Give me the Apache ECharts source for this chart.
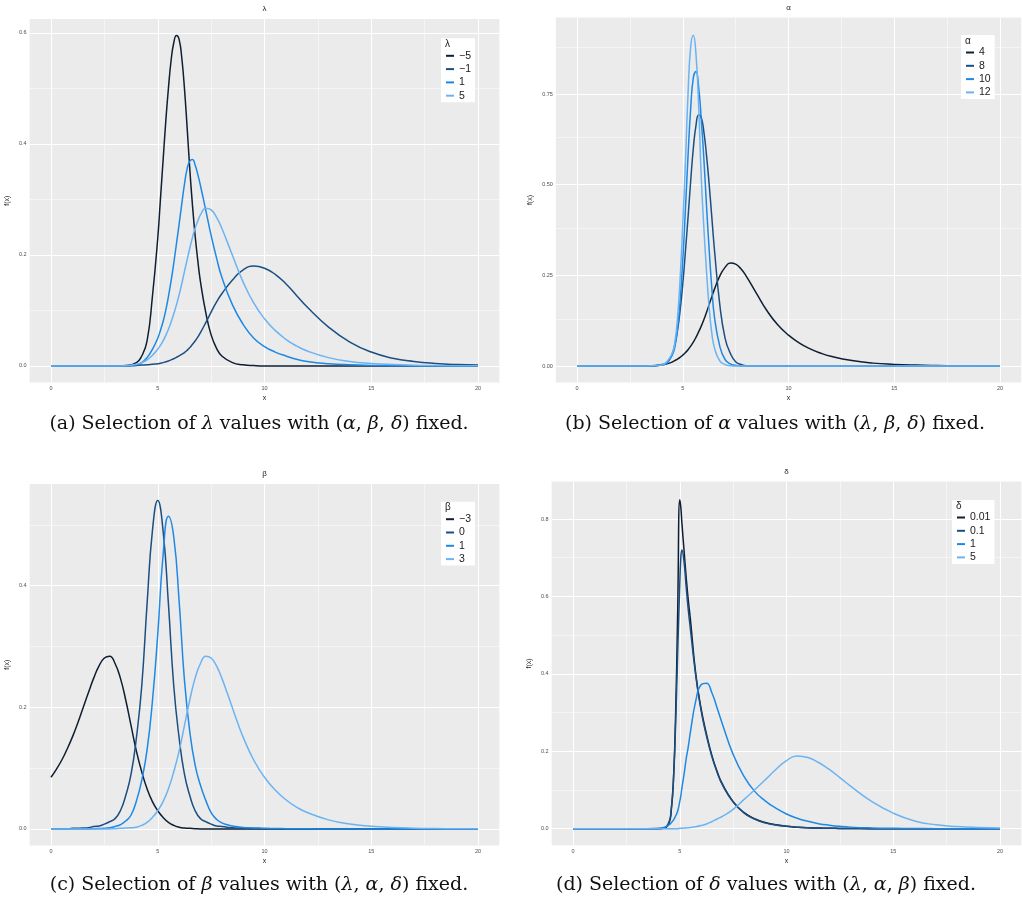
<!DOCTYPE html>
<html><head><meta charset="utf-8">
<script src="https://cdn.jsdelivr.net/npm/echarts@6/dist/echarts.min.js"></script>
<style>html,body{margin:0;padding:0;background:#fff}#c{width:1022px;height:903px}</style>
</head><body><div id="c"></div>
<script>
// ---------- data ----------
const xTicks = [0, 5, 10, 15, 20];
const xMinor = [2.5, 7.5, 12.5, 17.5];
const yTicksA = [0, 0.2, 0.4, 0.6];
const yTicksB = [0, 0.25, 0.5, 0.75];
const yTicksC = [0, 0.2, 0.4];
const yTicksD = [0, 0.2, 0.4, 0.6, 0.8];

// panel (a): lambda
const lambdaLabels = ['\u22125', '\u22121', '1', '5'];
const xA = [0,1,2,3,3.5,4,4.25,4.5,4.75,5,5.125,5.25,5.375,5.5,5.625,5.75,5.875,6,6.125,6.25,6.375,6.5,6.625,6.75,6.875,7,7.25,7.5,7.75,8,8.5,9,9.5,10,10.5,11,11.5,12,13,14,15,16,17,18,19,20];
const lamNeg5 = [0,0,0,0,0.001,0.006,0.018,0.045,0.125,0.23,0.3,0.37,0.44,0.5,0.55,0.582,0.595,0.588,0.555,0.5,0.43,0.355,0.29,0.235,0.19,0.152,0.096,0.056,0.032,0.018,0.006,0.002,0.0006,0,0,0,0,0,0,0,0,0,0,0,0,0];
const lamNeg1 = [0,0,0,0,0,0.001,0.0015,0.002,0.003,0.004,0.005,0.006,0.0075,0.009,0.011,0.013,0.0155,0.018,0.021,0.024,0.028,0.033,0.039,0.045,0.052,0.06,0.078,0.097,0.115,0.13,0.155,0.173,0.18,0.176,0.165,0.148,0.127,0.106,0.07,0.043,0.025,0.014,0.008,0.0045,0.0025,0.0015];
const lam1 = [0,0,0,0,0.0005,0.002,0.006,0.015,0.03,0.05,0.064,0.08,0.1,0.125,0.153,0.185,0.22,0.255,0.292,0.327,0.355,0.369,0.372,0.362,0.345,0.325,0.28,0.235,0.195,0.16,0.11,0.075,0.05,0.035,0.025,0.018,0.012,0.008,0.004,0.002,0.001,0.0005,0,0,0,0];
const lam5 = [0,0,0,0,0.0005,0.003,0.006,0.011,0.019,0.03,0.037,0.045,0.055,0.066,0.079,0.094,0.11,0.128,0.148,0.17,0.191,0.212,0.231,0.248,0.261,0.272,0.284,0.281,0.268,0.248,0.199,0.151,0.113,0.085,0.064,0.048,0.036,0.027,0.015,0.008,0.0045,0.0025,0.0014,0.0008,0.0004,0.0002];

// panel (b): alpha
const alphaLabels = ['4', '8', '10', '12'];
const xB = [0,1,2,3,3.5,4,4.25,4.5,4.625,4.75,4.875,5,5.125,5.25,5.375,5.5,5.625,5.75,5.875,6,6.125,6.25,6.375,6.5,6.75,7,7.25,7.5,7.75,8,8.5,9,9.5,10,10.5,11,11.5,12,13,14,15,16,17,18,19,20];
const alpha4 = [0,0,0,0,0.0005,0.003,0.006,0.011,0.015,0.019,0.024,0.03,0.037,0.045,0.055,0.066,0.079,0.094,0.11,0.128,0.148,0.17,0.191,0.212,0.248,0.272,0.284,0.281,0.268,0.248,0.199,0.151,0.113,0.085,0.064,0.048,0.036,0.027,0.015,0.008,0.0045,0.0025,0.0014,0.0008,0.0004,0.0002];
const alpha8 = [0,0,0,0,0.0005,0.004,0.009,0.033,0.059,0.098,0.153,0.225,0.315,0.41,0.51,0.6,0.663,0.692,0.685,0.645,0.58,0.5,0.41,0.32,0.17,0.077,0.035,0.012,0.004,0.001,0,0,0,0,0,0,0,0,0,0,0,0,0,0,0,0];
const alpha10 = [0,0,0,0,0.0005,0.003,0.008,0.03,0.052,0.1,0.18,0.29,0.43,0.58,0.71,0.795,0.812,0.77,0.68,0.57,0.44,0.32,0.215,0.135,0.055,0.018,0.006,0.002,0,0,0,0,0,0,0,0,0,0,0,0,0,0,0,0,0,0];
const alpha12 = [0,0,0,0,0.0005,0.003,0.012,0.035,0.065,0.13,0.24,0.39,0.56,0.75,0.88,0.912,0.86,0.72,0.52,0.38,0.26,0.16,0.09,0.05,0.014,0.004,0.001,0,0,0,0,0,0,0,0,0,0,0,0,0,0,0,0,0,0,0];

// panel (c): beta
const betaLabels = ['\u22123', '0', '1', '3'];
const xC = [0,0.25,0.5,0.75,1,1.25,1.5,1.75,2,2.25,2.5,2.75,3,3.25,3.5,3.75,4,4.25,4.5,4.75,5,5.25,5.5,5.75,6,6.25,6.5,6.75,7,7.25,7.5,7.75,8,8.25,8.5,8.75,9,9.5,10,10.5,11,11.5,12,13,14,15,16,17,18,19,20];
const betaNeg3 = [0.085,0.098,0.113,0.131,0.151,0.174,0.199,0.224,0.248,0.268,0.281,0.284,0.272,0.248,0.212,0.17,0.128,0.094,0.066,0.045,0.03,0.019,0.011,0.006,0.003,0.0015,0.001,0.0005,0,0,0,0,0,0,0,0,0,0,0,0,0,0,0,0,0,0,0,0,0,0,0];
const beta0 = [0,0,0,0,0.001,0.0012,0.0015,0.002,0.004,0.005,0.008,0.012,0.017,0.03,0.055,0.09,0.15,0.235,0.37,0.49,0.54,0.49,0.37,0.235,0.15,0.09,0.055,0.03,0.017,0.012,0.008,0.005,0.004,0.003,0.002,0.0015,0.001,0.0008,0.0005,0.0003,0,0,0,0,0,0,0,0,0,0,0];
const beta1 = [0,0,0,0,0,0,0,0,0.0005,0.0007,0.001,0.002,0.004,0.007,0.013,0.023,0.046,0.08,0.13,0.21,0.32,0.45,0.514,0.48,0.375,0.245,0.16,0.105,0.072,0.047,0.027,0.016,0.01,0.007,0.005,0.0035,0.0025,0.0018,0.001,0.0007,0.0005,0.0003,0.0002,0,0,0,0,0,0,0,0];
const beta3 = [0,0,0,0,0,0,0,0,0,0,0,0,0.0005,0.001,0.0015,0.002,0.003,0.006,0.011,0.019,0.03,0.045,0.066,0.094,0.128,0.17,0.212,0.248,0.272,0.284,0.281,0.268,0.248,0.224,0.199,0.174,0.151,0.113,0.085,0.064,0.048,0.036,0.027,0.015,0.008,0.0045,0.0025,0.0014,0.0008,0.0004,0.0002];

// panel (d): delta
const deltaLabels = ['0.01', '0.1', '1', '5'];
const xD = [0,1,2,3,3.5,4,4.25,4.5,4.6,4.7,4.8,4.9,5,5.05,5.1,5.2,5.3,5.4,5.5,5.75,6,6.25,6.5,6.75,7,7.5,8,8.5,9,9.5,10,10.5,11,11.5,12,12.5,13,14,15,16,17,18,19,20];
const delta001 = [0,0,0,0,0,0,0.001,0.015,0.045,0.12,0.28,0.55,0.85,0.83,0.79,0.72,0.65,0.59,0.54,0.4,0.31,0.245,0.19,0.148,0.115,0.07,0.042,0.026,0.016,0.01,0.006,0.004,0.0025,0.0016,0.001,0.0007,0.0005,0,0,0,0,0,0,0];
const delta01 = [0,0,0,0,0,0,0.001,0.018,0.05,0.12,0.26,0.45,0.63,0.7,0.72,0.69,0.625,0.565,0.515,0.395,0.305,0.24,0.187,0.146,0.113,0.069,0.041,0.025,0.015,0.0095,0.006,0.0037,0.0023,0.0015,0.001,0.0007,0.0005,0,0,0,0,0,0,0];
const delta1 = [0,0,0,0,0,0.001,0.003,0.01,0.015,0.022,0.032,0.045,0.07,0.085,0.105,0.14,0.18,0.212,0.25,0.33,0.372,0.376,0.352,0.312,0.27,0.192,0.136,0.097,0.072,0.053,0.038,0.027,0.019,0.013,0.009,0.006,0.004,0.002,0.001,0.0005,0,0,0,0];
const delta5 = [0,0,0,0,0,0,0,0,0,0,0,0,0.001,0.001,0.0012,0.0015,0.002,0.0025,0.003,0.005,0.008,0.012,0.018,0.025,0.032,0.05,0.075,0.1,0.126,0.153,0.176,0.188,0.184,0.171,0.153,0.132,0.11,0.07,0.04,0.02,0.01,0.0055,0.003,0.0015];

// ---------- layout / style ----------
const colors = ['#0F1E30', '#1B4F82', '#1E88E5', '#6BB3F2'];
const panels = [
  {key:'a', sym:'\u03BB', x:xA, ys:[lamNeg5, lamNeg1, lam1, lam5], labels:lambdaLabels,
   left:29.65, top:19, width:469.7, height:363.5, ymin:-0.0298, ymax:0.6248, yTicks:yTicksA, yMinor:[0.1,0.3,0.5], dec:1,
   legLeft:441, legTop:38.3, yGap:19},
  {key:'b', sym:'\u03B1', x:xB, ys:[alpha4, alpha8, alpha10, alpha12], labels:alphaLabels,
   left:555.85, top:17.5, width:465.3, height:365.1, ymin:-0.0457, ymax:0.961, yTicks:yTicksB, yMinor:[0.125,0.375,0.625,0.875], dec:2,
   legLeft:961, legTop:35, yGap:22},
  {key:'c', sym:'\u03B2', x:xC, ys:[betaNeg3, beta0, beta1, beta3], labels:betaLabels,
   left:29.65, top:484.1, width:469.7, height:361.3, ymin:-0.027, ymax:0.567, yTicks:yTicksC, yMinor:[0.1,0.3,0.5], dec:1,
   legLeft:441, legTop:501.7, yGap:19},
  {key:'d', sym:'\u03B4', x:xD, ys:[delta001, delta01, delta1, delta5], labels:deltaLabels,
   left:551.65, top:481.6, width:469.7, height:363.6, ymin:-0.0427, ymax:0.8967, yTicks:yTicksD, yMinor:[0.1,0.3,0.5,0.7], dec:1,
   legLeft:952, legTop:500, yGap:19}
];
const sans = 'Liberation Sans, Arial, sans-serif';
const serif = 'DejaVu Serif, Liberation Serif, serif';

const grid = [], xAxis = [], yAxis = [], series = [], legend = [], graphic = [];
panels.forEach((p, i) => {
  grid.push({left:p.left, top:p.top, width:p.width, height:p.height, show:true, backgroundColor:'#EBEBEB', borderWidth:0, containLabel:false});
  xAxis.push({gridIndex:i, type:'value', min:-1, max:21,
    axisLine:{show:false},
    axisTick:{show:true, customValues:xTicks, length:2, lineStyle:{color:'#333', width:0.6}},
    axisLabel:{customValues:xTicks, fontSize:5.5, color:'#4D4D4D', margin:3, fontFamily:sans},
    splitLine:{show:false},
    name:'x', nameLocation:'middle', nameGap:12, nameTextStyle:{fontSize:7, color:'#222', fontFamily:sans}});
  yAxis.push({gridIndex:i, type:'value', min:p.ymin, max:p.ymax,
    axisLine:{show:false},
    axisTick:{show:true, customValues:p.yTicks, length:2, lineStyle:{color:'#333', width:0.6}},
    axisLabel:{customValues:p.yTicks, fontSize:5.5, color:'#4D4D4D', margin:3, fontFamily:sans,
      formatter:(v)=>Number(v).toFixed(p.dec)},
    splitLine:{show:false},
    name:'f(x)', nameLocation:'middle', nameGap:p.yGap, nameRotate:90, nameTextStyle:{fontSize:7, color:'#222', fontFamily:sans}});
  const lines = [];
  xTicks.forEach(v => lines.push({xAxis:v, lineStyle:{width:1}}));
  xMinor.forEach(v => lines.push({xAxis:v, lineStyle:{width:0.5}}));
  p.yTicks.forEach(v => lines.push({yAxis:v, lineStyle:{width:1}}));
  p.yMinor.forEach(v => lines.push({yAxis:v, lineStyle:{width:0.5}}));
  series.push({type:'line', name:'grid'+i, xAxisIndex:i, yAxisIndex:i, data:[], silent:true, z:1,
    markLine:{silent:true, z:1, symbol:['none','none'], label:{show:false}, animation:false,
      lineStyle:{color:'#FFFFFF', type:'solid', opacity:1}, emphasis:{disabled:true}, data:lines}});
  const names = [];
  p.ys.forEach((ys, k) => {
    const nm = p.key + ':' + p.labels[k];
    names.push(nm);
    series.push({type:'line', name:nm, xAxisIndex:i, yAxisIndex:i, z:3,
      data:p.x.map((xv, j) => [xv, ys[j]]),
      showSymbol:false, symbol:'none', smooth:0.5,
      lineStyle:{width:1.5, color:colors[k]}, itemStyle:{color:colors[k]}, emphasis:{disabled:true}});
  });
  legend.push({data:names, orient:'vertical', left:p.legLeft, top:p.legTop, padding:[12,4,1,5],
    backgroundColor:'#FFFFFF', itemWidth:8, itemHeight:2, icon:'rect', itemGap:2.3, selectedMode:false,
    formatter:(n)=>n.split(':')[1],
    textStyle:{fontSize:10.5, lineHeight:10, color:'#1A1A1A', fontFamily:sans}});
  graphic.push({type:'text', left:p.legLeft+4, top:p.legTop+1, z:100,
    style:{text:p.sym, font:'10px ' + sans, fill:'#1A1A1A'}});
  graphic.push({type:'text', x:p.left + p.width/2, y:p.top - 10, z:100,
    style:{text:p.sym, font:'8px ' + sans, fill:'#222', align:'center', verticalAlign:'middle'}});
});

const captions = [
  {x:259, y:424, t:'(a) Selection of {i|\u03BB} values with ({i|\u03B1}, {i|\u03B2}, {i|\u03B4}) fixed.'},
  {x:775, y:424, t:'(b) Selection of {i|\u03B1} values with ({i|\u03BB}, {i|\u03B2}, {i|\u03B4}) fixed.'},
  {x:259, y:885, t:'(c) Selection of {i|\u03B2} values with ({i|\u03BB}, {i|\u03B1}, {i|\u03B4}) fixed.'},
  {x:766, y:885, t:'(d) Selection of {i|\u03B4} values with ({i|\u03BB}, {i|\u03B1}, {i|\u03B2}) fixed.'}
];
captions.forEach(c => graphic.push({type:'text', x:c.x, y:c.y, z:100,
  style:{text:c.t, font:'19px ' + serif, fill:'#111', align:'center', verticalAlign:'middle',
    rich:{i:{fontStyle:'italic', fontSize:19, fontFamily:serif, fill:'#111'}}}}));

const chart = echarts.init(document.getElementById('c'), null, {renderer:'canvas'});
chart.setOption({animation:false, backgroundColor:'#FFFFFF', grid, xAxis, yAxis, series, legend, graphic});
</script></body></html>
